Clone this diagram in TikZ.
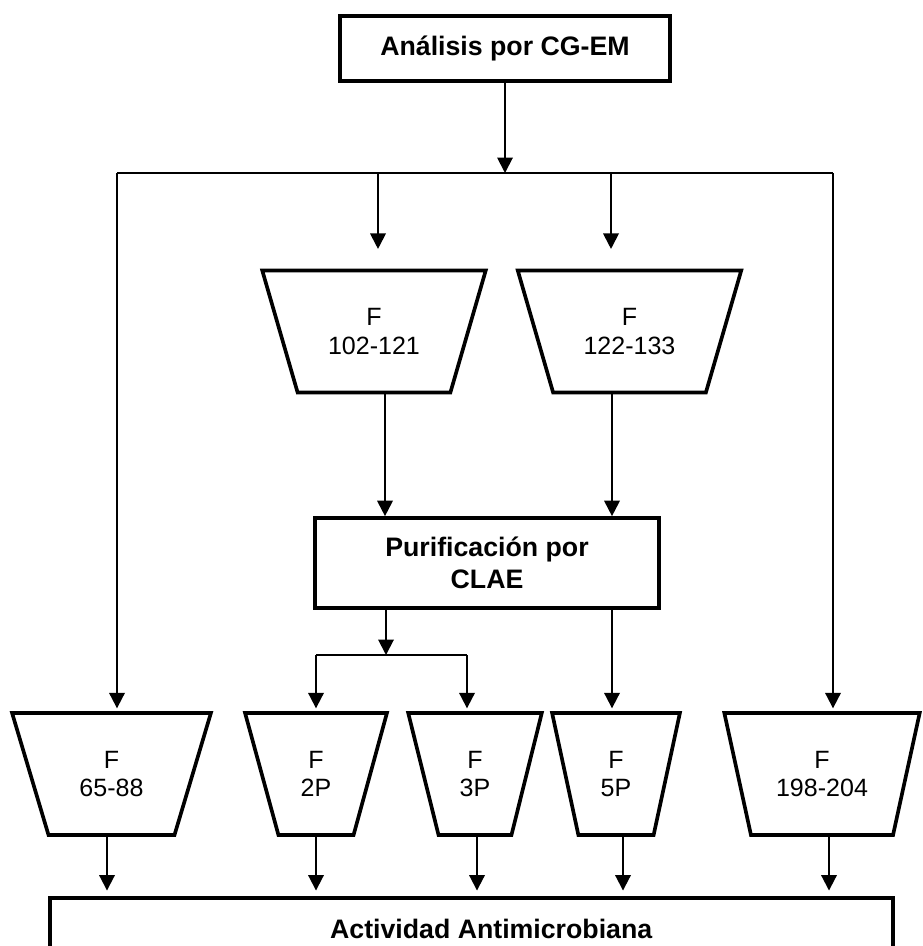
\documentclass[tikz,border=0pt]{standalone}
\usepackage{fontspec}
\setmainfont{Liberation Sans}
\usetikzlibrary{shapes.geometric,arrows.meta}

\begin{document}
\begin{tikzpicture}[
  x=0.025cm, y=-0.025cm,
  box/.style={
    draw,
    line width=2.6pt,
    align=center,
    font=\bfseries\fontsize{19}{23}\selectfont
  },
  frac/.style={
    draw,
    line width=2.6pt,
    shape=trapezium,
    shape border rotate=180,
    trapezium stretches=true,
    inner sep=0pt,
    align=center,
    minimum height=3.05cm,
    font=\fontsize{17.8}{20}\selectfont
  },
  arr/.style={line width=1.4pt, -{Triangle[width=11pt,length=11pt]}},
  link/.style={line width=1.4pt}
]
\useasboundingbox (0,0) rectangle (922,946);
\clip (0,0) rectangle (922,946);

\node[box, minimum width=8.25cm, minimum height=1.625cm] (cg) at (505,48.5) {Análisis por CG-EM};
\node[frac, minimum width=5.625cm, trapezium angle=65] (f102) at (374,331.5) {F\\102-121};
\node[frac, minimum width=5.625cm, trapezium angle=65] (f122) at (629.5,331.5) {F\\122-133};
\node[box, minimum width=8.6cm, minimum height=2.25cm] (pur) at (487,563) {Purificación por\\CLAE};
\node[frac, minimum width=4.975cm, trapezium angle=67.9] (f65) at (111.5,774) {F\\65-88};
\node[frac, minimum width=3.55cm, trapezium angle=73.3] (f2p) at (316,774) {F\\2P};
\node[frac, minimum width=3.35cm, trapezium angle=74.4] (f3p) at (475,774) {F\\3P};
\node[frac, minimum width=3.2cm, trapezium angle=76.8] (f5p) at (616,774) {F\\5P};
\node[frac, minimum width=4.9cm, trapezium angle=69.3] (f198) at (822,774) {F\\198-204};
\node[box, minimum width=21.075cm, minimum height=1.55cm] (act) at (471.5,929) {\hspace*{28pt}Actividad Antimicrobiana};

% branch points
\coordinate (sp) at (505,173);
\coordinate (hl) at (117,173);
\coordinate (hr) at (833,173);
\coordinate (b1) at (378,173);
\coordinate (b2) at (611,173);
\coordinate (sb) at (386,655);
\coordinate (sl) at (316,655);
\coordinate (sr) at (467,655);

\draw[arr] (cg) -- (sp);
\draw[link] (hl) -- (hr);
\draw[arr, shorten >=14pt] (b1) -- (b1 |- f102.north);
\draw[arr, shorten >=14pt] (b2) -- (b2 |- f122.north);
\draw[arr, shorten >=2pt] (hl) -- (hl |- f65.north);
\draw[arr, shorten >=2pt] (hr) -- (hr |- f198.north);
\draw[arr] (f102.south -| 385,0) -- (pur.north -| 385,0);
\draw[arr] (f122.south -| 612,0) -- (pur.north -| 612,0);
\draw[arr] (pur.south -| sb) -- (sb);
\draw[link] (sl) -- (sr);
\draw[arr, shorten >=2pt] (sl) -- (sl |- f2p.north);
\draw[arr, shorten >=2pt] (sr) -- (sr |- f3p.north);
\draw[arr, shorten >=2pt] (pur.south -| 612,0) -- (f5p.north -| 612,0);
\foreach \n/\x in {f65/107,f2p/316,f3p/477,f5p/623,f198/829}
  \draw[arr, shorten >=4pt] (\n.south -| \x,0) -- (act.north -| \x,0);
\end{tikzpicture}
\end{document}
